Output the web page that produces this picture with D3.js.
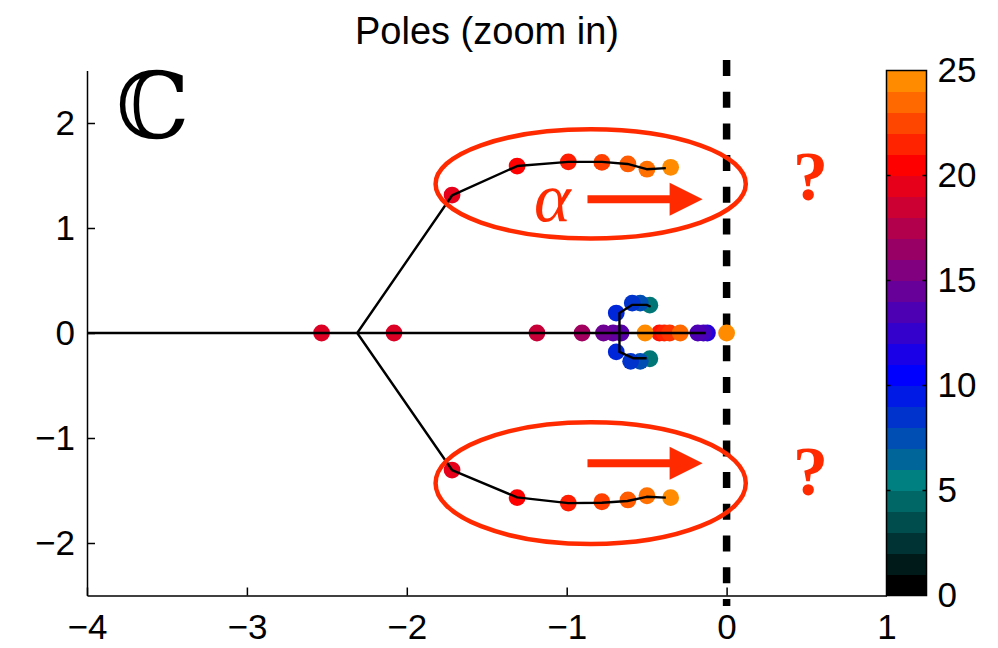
<!DOCTYPE html>
<html>
<head>
<meta charset="utf-8">
<script src="https://cdn.jsdelivr.net/npm/d3@7"></script>
<style>
  body { margin: 0; background: #fff; }
  svg { display: block; font-family: "Liberation Sans", Arial, sans-serif; }
</style>
</head>
<body>
<svg id="chart" width="998" height="648"></svg>
<script>
// Axis ticks
const xTicks = [-4, -3, -2, -1, 0, 1];
const yTicks = [-2, -1, 0, 1, 2];
const cbTicks = [0, 5, 10, 15, 20, 25];

// Colormap anchors (value -> colour), 25 cells
const cmapStops = [0, 5, 10, 15, 20, 24];
const cmapColors = ['#000000', '#008080', '#0000ff', '#800080', '#ff0000', '#ff8c00'];
const cmapCells = d3.range(25);

// Pole trajectories (black lines)
const realLine = [[-4, 0], [-0.13, 0]];
const upperBranch = [[-2.31, 0], [-1.717, 1.31], [-1.31, 1.59], [-0.99, 1.63], [-0.78, 1.63], [-0.62, 1.61], [-0.50, 1.56], [-0.38, 1.57]];
const lowerBranch = [[-2.31, 0], [-1.717, -1.305], [-1.31, -1.565], [-0.99, -1.62], [-0.78, -1.616], [-0.62, -1.60], [-0.50, -1.56], [-0.38, -1.568]];
const clusterTop = [[-0.67, 0], [-0.67, 0.19], [-0.59, 0.268], [-0.50, 0.268], [-0.475, 0.25]];
const clusterBottom = [[-0.67, 0], [-0.67, -0.18], [-0.585, -0.24], [-0.50, -0.24]];

// Poles: [re, im, parameter]
const upperPoles = [[-1.717, 1.314, 19], [-1.31, 1.59, 20], [-0.99, 1.63, 20.8], [-0.78, 1.625, 21.8], [-0.617, 1.61, 22.6], [-0.498, 1.56, 23.2], [-0.35, 1.578, 24]];
const lowerPoles = [[-1.717, -1.305, 19], [-1.31, -1.568, 20], [-0.99, -1.62, 20.8], [-0.78, -1.607, 21.8], [-0.617, -1.59, 22.6], [-0.498, -1.55, 23.2], [-0.35, -1.568, 24]];
const realPoles = [[-2.533, 0, 18.6], [-2.08, 0, 18.6], [-1.186, 0, 17.8], [-0.904, 0, 16.3], [-0.77, 0, 14.3], [-0.71, 0, 13.8], [-0.66, 0, 13.4],
  [-0.51, 0, 24], [-0.42, 0, 20.5], [-0.39, 0, 21], [-0.356, 0, 21.5], [-0.29, 0, 23], [-0.12, 0, 11.5], [-0.18, 0, 13], [-0.145, 0, 12.6], [0, 0, 24]];
const clusterPoles = [[-0.69, 0.19, 8.5], [-0.59, 0.285, 8], [-0.54, 0.285, 7], [-0.48, 0.265, 4.6],
  [-0.69, -0.18, 8.5], [-0.60, -0.27, 8], [-0.54, -0.27, 7], [-0.48, -0.245, 4.6]];

// Annotations (data coords)
const ellipses = [{ cx: -0.85, cy: 1.42, rx: 0.97, ry: 0.52 }, { cx: -0.85, cy: -1.43, rx: 0.97, ry: 0.58 }];
const arrows = [{ x0: -0.87, x1: -0.15, y: 1.275 }, { x0: -0.87, x1: -0.15, y: -1.24 }];
const questions = [[0.525, 1.27], [0.525, -1.54]];
const alphaPos = [-1.09, 1.07];

const svg = d3.select('#chart');
const x = d3.scaleLinear().domain([-4, 1]).range([87, 886.5]);
const y = d3.scaleLinear().domain([-2.5, 2.5]).range([595.5, 70.5]);
const red = '#ff2a00';

const cmap = d3.scaleLinear().domain(cmapStops).range(cmapColors).clamp(true);

// Title
svg.append('text').attr('x', 487).attr('y', 44).attr('text-anchor', 'middle')
  .attr('font-size', 38).text('Poles (zoom in)');

// Axes
const fmt = d => d < 0 ? '\u2212' + Math.abs(d) : String(d);
const gx = svg.append('g').attr('transform', `translate(0,${y(-2.5)})`)
  .call(d3.axisBottom(x).tickValues(xTicks).tickFormat(fmt).tickSize(-8).tickSizeOuter(0).tickPadding(19));
const gy = svg.append('g').attr('transform', `translate(${x(-4)},0)`)
  .call(d3.axisLeft(y).tickValues(yTicks).tickFormat(fmt).tickSize(-8).tickSizeOuter(0).tickPadding(12));
[gx, gy].forEach(g => {
  g.attr('font-family', null).attr('font-size', 35);
  g.selectAll('path, line').attr('stroke', '#000').attr('stroke-width', 1.5);
  g.selectAll('text').attr('fill', '#000');
});
gx.selectAll('.tick').filter(d => d === 1).select('line').remove();

// Dashed line at Re = 0
svg.append('line').attr('x1', x(0)).attr('x2', x(0)).attr('y1', y(2.6)).attr('y2', y(-2.6))
  .attr('stroke', '#000').attr('stroke-width', 7.5).attr('stroke-dasharray', '16 15.7');

// Poles
const allPoles = [...realPoles, ...clusterPoles, ...upperPoles, ...lowerPoles].sort((a, b) => a[2] - b[2]);
svg.append('g').selectAll('circle').data(allPoles).join('circle')
  .attr('cx', d => x(d[0])).attr('cy', d => y(d[1])).attr('r', 8.4)
  .attr('fill', d => cmap(d[2]));

// Trajectories
const line = d3.line().x(d => x(d[0])).y(d => y(d[1]));
svg.append('g').selectAll('path').data([realLine, upperBranch, lowerBranch, clusterTop, clusterBottom]).join('path')
  .attr('d', line).attr('fill', 'none').attr('stroke', '#000').attr('stroke-width', 2.4).attr('stroke-linejoin', 'round');

// Ellipses
svg.append('g').selectAll('ellipse').data(ellipses).join('ellipse')
  .attr('cx', d => x(d.cx)).attr('cy', d => y(d.cy))
  .attr('rx', d => x(d.cx + d.rx) - x(d.cx)).attr('ry', d => y(d.cy - d.ry) - y(d.cy))
  .attr('fill', 'none').attr('stroke', red).attr('stroke-width', 4.5);

// Arrows
svg.append('g').selectAll('path').data(arrows).join('path')
  .attr('d', d => {
    const a = x(d.x0), b = x(d.x1), c = y(d.y), hl = 33, hw = 16.5, sw = 4;
    return `M${a},${c - sw}H${b - hl}V${c - hw}L${b},${c}L${b - hl},${c + hw}V${c + sw}H${a}Z`;
  })
  .attr('fill', red);

// alpha
svg.append('text').attr('x', x(alphaPos[0])).attr('y', y(alphaPos[1])).attr('text-anchor', 'middle')
  .attr('font-family', '"Liberation Serif", "DejaVu Serif", serif').attr('font-style', 'italic')
  .attr('font-size', 70).attr('fill', red).text('\u03b1');

// Question marks
svg.append('g').selectAll('text').data(questions).join('text')
  .attr('x', d => x(d[0])).attr('y', d => y(d[1])).attr('text-anchor', 'middle')
  .attr('font-family', '"Liberation Serif", serif').attr('font-weight', 'bold')
  .attr('font-size', 70).attr('fill', red).text('?');

// Complex plane symbol
svg.append('text').attr('x', 116).attr('y', 138)
  .attr('font-family', '"DejaVu Serif", serif').attr('font-size', 92).text('\u2102');

// Colorbar
const cb = d3.scaleLinear().domain([0, 25]).range([595.5, 70.5]);
const cbX = 886.5, cbW = 40;
const gcb = svg.append('g');
gcb.selectAll('rect').data(cmapCells).join('rect')
  .attr('x', cbX).attr('width', cbW)
  .attr('y', d => cb(d + 1)).attr('height', d => cb(d) - cb(d + 1) + 0.5)
  .attr('fill', d => cmap(d));
gcb.append('rect').attr('x', cbX).attr('y', cb(25)).attr('width', cbW).attr('height', cb(0) - cb(25))
  .attr('fill', 'none').attr('stroke', '#000').attr('stroke-width', 1.5);
gcb.selectAll('line.tk').data(cbTicks.slice(1, -1)).join('line').attr('class', 'tk')
  .attr('x1', cbX).attr('x2', cbX + 4).attr('y1', d => cb(d)).attr('y2', d => cb(d))
  .attr('stroke', '#000').attr('stroke-width', 1.5);
gcb.selectAll('line.tk2').data(cbTicks.slice(1, -1)).join('line').attr('class', 'tk2')
  .attr('x1', cbX + cbW - 4).attr('x2', cbX + cbW).attr('y1', d => cb(d)).attr('y2', d => cb(d))
  .attr('stroke', '#000').attr('stroke-width', 1.5);
const gcbAxis = svg.append('g').attr('transform', `translate(${cbX + cbW},0)`)
  .call(d3.axisRight(cb).tickValues(cbTicks).tickSize(0).tickPadding(11));
gcbAxis.attr('font-family', null).attr('font-size', 35);
gcbAxis.select('.domain').remove();
gcbAxis.selectAll('text').attr('fill', '#000');
</script>
</body>
</html>
